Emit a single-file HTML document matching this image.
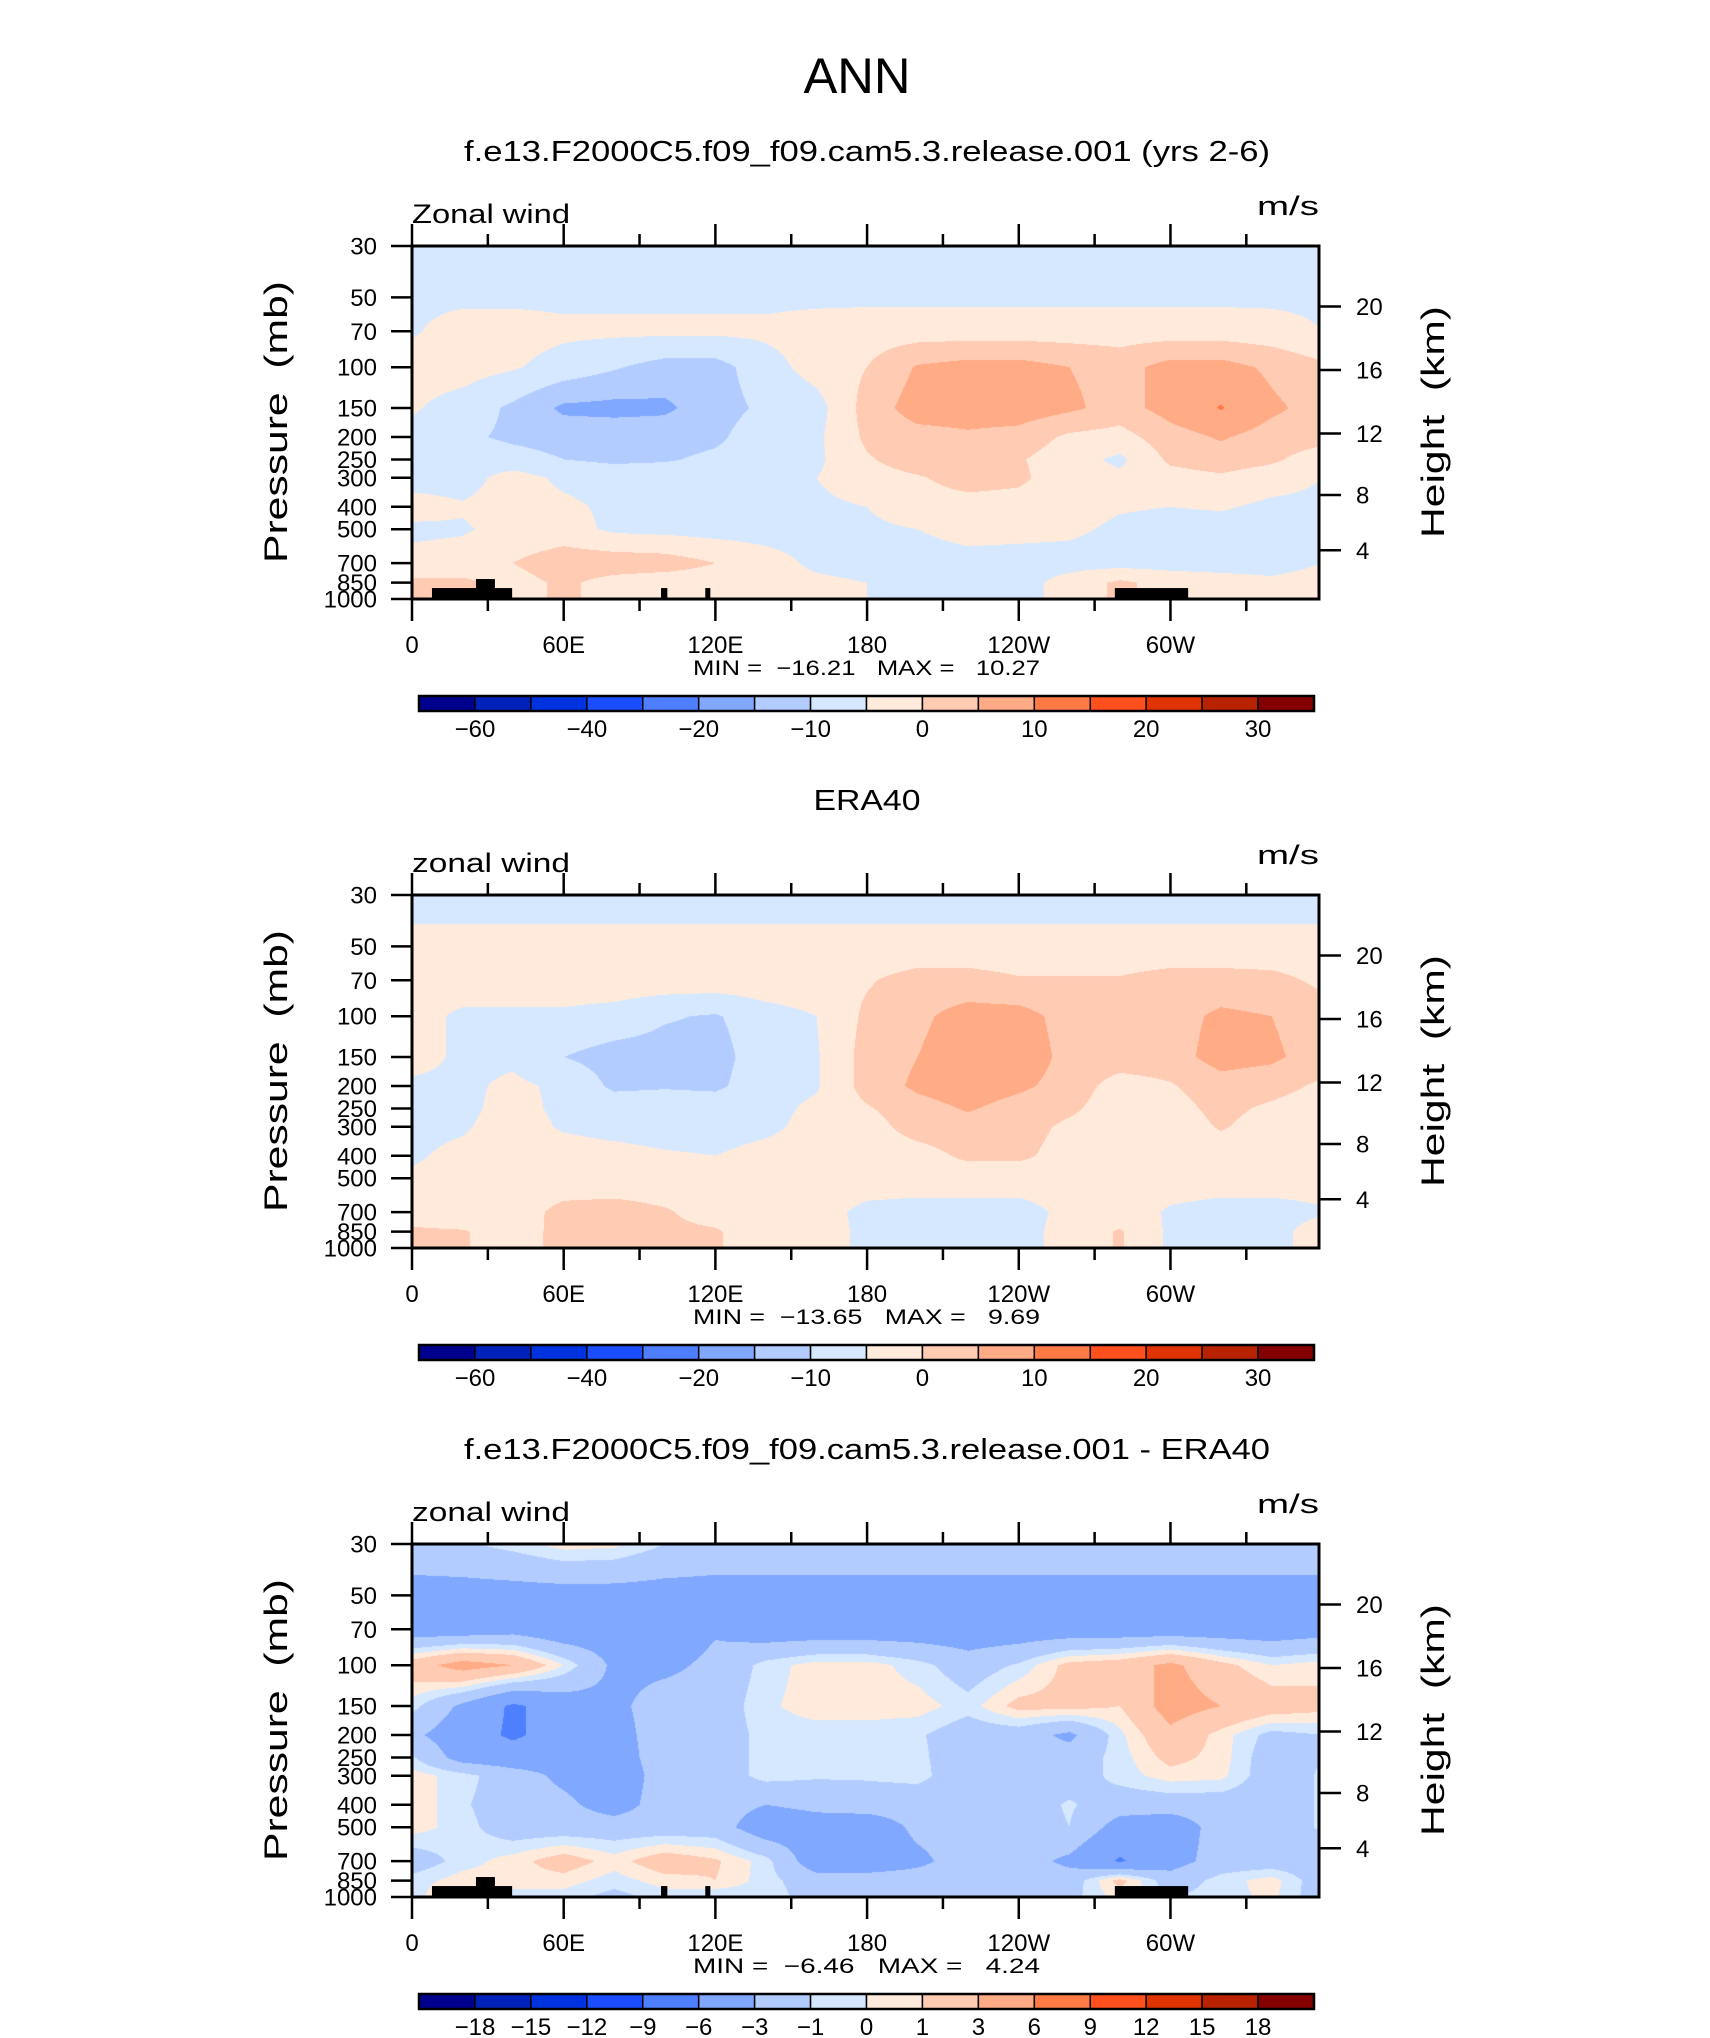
<!DOCTYPE html>
<html><head><meta charset="utf-8">
<style>
html,body{margin:0;padding:0;background:#fff;}
#wrap{position:relative;width:1710px;height:2038px;overflow:hidden;background:#fff;}
canvas{position:absolute;}
svg{position:absolute;left:0;top:0;}
text{font-family:"Liberation Sans",sans-serif;fill:#000;white-space:pre;}
</style></head>
<body>
<div id="wrap">
<canvas id="c0" width="907" height="353" style="left:412px;top:246px"></canvas>
<canvas id="c1" width="907" height="353" style="left:412px;top:895px"></canvas>
<canvas id="c2" width="907" height="353" style="left:412px;top:1544px"></canvas>
<svg id="svg" width="1710" height="2038" xmlns="http://www.w3.org/2000/svg"></svg>
</div>
<script>
// ---------- data ----------
const lons = [0,20,40,60,80,100,120,140,160,180,200,220,240,260,280,300,320,340,360];
const levs = [30,50,70,100,150,200,250,300,400,500,700,850,1000];

const u1 = [
[-8,-8,-8,-8,-8,-8,-8,-8,-8,-8,-8,-8,-8,-8,-8,-8,-8,-8,-8],
[-6,-6,-6,-6,-6,-6,-6,-6,-6,-6,-6,-6,-6,-6,-6,-6,-6,-6,-6],
[-5.5,-3,-3,-4,-4,-4,-4,-4,-3,-2.5,-2.5,-2.5,-2.5,-2.5,-2.5,-2.5,-2.5,-3,-5],
[-3,-3,-4.5,-7,-9.5,-12,-12,-7,-3,0,5.5,7,7,5,3,7,7,4,1],
[-4.5,-7,-11,-16,-16.5,-16,-12,-9,-7,2,7.5,8,8,6,3,7,10.3,6,3],
[-6,-9,-11,-12,-12,-12,-11,-7,-6,1,3,4,3,-1,-2,3,5.5,3,2],
[-7,-7,-8,-10,-11,-10.5,-9,-7,-6,-0.5,2.5,3,0.5,-3,-6,1,3,1,-3],
[-7,-7,-3,-6,-7,-7,-7,-7,-5,-2,-0.5,2,1,-3,-4,-2,-1,-3,-5],
[-3,-4.5,-3,-4,-6,-7,-7,-7,-6,-5,-2,-2,-2,-3,-4.5,-5,-4.5,-6,-6],
[-6,-5.5,-3.5,-3,-6,-6.5,-7,-7,-7,-6,-5,-3,-3.5,-4,-6,-7,-7,-7,-6],
[-3.5,-3,0,3,3,2.5,0,-3,-6,-7,-7.5,-7,-7,-7,-7,-7,-7,-7,-5],
[1,1,-2,1,-2,-3,-3,-3,-4,-5,-9,-8,-7,-3,1,-2,-3,-4,-3],
[1,1,-2,1,-2,-3,-3,-3,-4,-5,-7,-7,-7,-3,1,-2,-3,-4,-3]
];
const u2 = [
[-7,-7,-7,-7,-7,-7,-7,-7,-7,-7,-7,-7,-7,-7,-7,-7,-7,-7,-7],
[-3.5,-3.5,-3.5,-3.5,-3.5,-3.5,-3.5,-3.5,-3.5,-3.5,-3.5,-3.5,-3.5,-3.5,-3.5,-3.5,-3.5,-3.5,-3.5],
[-2,-2,-2,-2,-2,-2,-2,-2,-2,-0.5,2,2,0.5,0.5,0.5,2,2,1.5,-1],
[-3,-6,-6,-6,-7,-9.5,-10.5,-7,-5,1,4,7,7,3,3,3,6,5,2],
[-3,-6,-6,-10,-12,-12,-12,-7,-5.5,2,5,8,8,3.5,3,3,7,6,2.5],
[-6,-6,-4,-6,-11,-10.5,-11,-7,-5.5,2,6,8,6,3,-2.5,-0.5,3,2,-1],
[-6,-6,-3.5,-6,-7,-7,-7,-6.5,-4,-0.5,3,5.5,3,1,-3,-2,1.5,-1,-3],
[-6,-5.5,-3,-5.5,-6.5,-7,-7,-6,-3.5,-2,2,3,2,-1,-3,-3,0.5,-2.5,-3],
[-5.5,-4,-3,-3,-3.5,-4.5,-5,-3.5,-3,-2.5,-2,1,1,-2,-3,-3,-3,-3,-3],
[-4.5,-3.5,-3,-3,-3,-3,-3,-3,-3,-3,-3,-3,-3,-3,-3,-3,-3,-3,-3],
[-3,-4.5,-2.5,1.5,2,0.5,-2,-3,-3.5,-6,-6.5,-6.5,-6.5,-4,-3,-5.5,-6.5,-6.5,-5.5],
[1,0.5,-3,2,2,1,0.5,-3,-3,-6,-7,-7,-7,-3,0.5,-6,-7,-6.5,-3],
[1,0.5,-3,2,2,1,0.5,-3,-3,-6,-7,-7,-7,-3,0.5,-6,-7,-6.5,-3]
];
const u3 = [
[-1.5,-1.2,-0.5,0.5,0.3,-1,-1.5,-1.5,-1.5,-1.5,-1.5,-1.5,-1.5,-1.5,-1.5,-1.5,-1.5,-1.5,-1.5],
[-4,-4,-4,-4,-4,-4,-4,-4,-4,-4,-4,-4,-4,-4,-4,-4,-4,-4,-4],
[-4.5,-4.5,-4,-5,-4.5,-4.5,-3.2,-4.5,-4.5,-4.5,-4.5,-4.5,-4.5,-4.5,-4.5,-4.5,-4.5,-4.5,-4],
[2,4,3,0,-3.5,-3.5,-2.5,-0.5,0.5,0.5,-0.5,-2,-0.8,1.5,2,3.5,1.5,0,0.5],
[-0.5,-3.5,-6.5,-4.5,-3.5,-2,-2,-0.2,0.5,0.5,0.5,-0.5,1.5,1.5,1,4,3,2,1.5],
[-2.5,-4.5,-6.5,-4.5,-3.8,-2,-2,-0.5,-0.5,-0.5,-0.8,-2,-2,-3.5,-0.3,2.5,0.5,-1.5,-1],
[-0.8,-4,-4.5,-4,-4,-2,-2,-0.5,-0.5,-0.5,-0.7,-2,-2,-2,-0.5,1.5,0.5,-2,-1],
[0.5,-0.5,-2,-3.5,-4.5,-2,-2,-0.5,-0.8,-0.8,-0.6,-2,-2,-2,-0.5,0.5,0.3,-2,-0.8],
[0.8,-0.8,-2,-2.5,-4,-2,-2,-3,-2.5,-2,-2,-2,-2,-0.8,-2,-2,-2,-2,-0.8],
[0.5,-0.5,-2,-2,-2,-2,-2,-4.5,-4,-4.5,-2.5,-2,-2,-1,-4,-4.5,-2,-2,-0.8],
[-2,-0.5,0.5,1.8,0.5,2,1.2,-0.5,-4.5,-4.5,-3.5,-2,-2,-3.5,-6.3,-4,-2,-2,-2],
[-0.5,0.5,0.5,0.5,-0.5,0.5,1,-0.5,-2,-2,-2,-2,-2,-2,1.5,-2,-0.5,0.5,-2],
[-0.5,1.5,-0.5,-0.5,-1.5,-0.5,-1,-0.5,-1.5,-2,-2,-2,-2,-1.5,0.5,-1,-0.5,0.3,-2]
];
// topography blocks: [lonStart, lonEnd, topPressure]
const topoLon0 = [7.9, 25.3, 98.5, 116, 278];
const topoLon1 = [39.6, 32.8, 101, 118, 307];
const topoP = [897, 820, 897, 897, 897];

const levelsA = [-60,-50,-40,-30,-20,-15,-10,-5,0,5,10,15,20,25,30];
const labelsA = ["\u221260","","\u221240","","\u221220","","\u221210","","0","","10","","20","","30"];
const levelsB = [-18,-15,-12,-9,-6,-3,-1,0,1,3,6,9,12,15,18];
const labelsB = ["\u221218","\u221215","\u221212","\u22129","\u22126","\u22123","\u22121","0","1","3","6","9","12","15","18"];
const colors = ["#00008f","#0022b8","#0033e0","#1a4dff","#4d7fff","#80a8ff","#b3ccff","#d6e8ff","#ffeadb","#ffcbb3","#ffab85","#ff7a45","#ff4f1c","#e03300","#b82200","#850000"];

const xTickLons = [0,30,60,90,120,150,180,210,240,270,300,330];
const xLabelLons = [0,60,120,180,240,300];
const xLabels = ["0","60E","120E","180","120W","60W"];
const pTicks = [30,50,70,100,150,200,250,300,400,500,700,850,1000];
const hTicks = [20,16,12,8,4];
const minmax = [["\u221216.21","10.27"],["\u221213.65","9.69"],["\u22126.46","4.24"]];
const titles = ["f.e13.F2000C5.f09_f09.cam5.3.release.001 (yrs 2-6)","ERA40","f.e13.F2000C5.f09_f09.cam5.3.release.001 - ERA40"];
const varNames = ["Zonal wind","zonal wind","zonal wind"];

// ---------- layout ----------
const PL=412, PW=907, PH=353, PT0=246, DY=649, LONMAX=358.75;
const fields=[u1,u2,u3];
const levelSets=[levelsA,levelsA,levelsB];
const labelSets=[labelsA,labelsA,labelsB];
const lnTop=Math.log(30), lnSpan=Math.log(1000/30);
function xOf(lon){return PL+lon/LONMAX*PW;}
function yOfP(p,top){return top+(Math.log(p)-lnTop)/lnSpan*PH;}
function pOfH(km){const z=km*1000; if(z<=11000) return 1013.25*Math.pow(1-2.25577e-5*z,5.25588); return 226.32*Math.exp(-(z-11000)/6341.6);}
function hex(c){return [parseInt(c.substr(1,2),16),parseInt(c.substr(3,2),16),parseInt(c.substr(5,2),16)];}
const rgb=colors.map(hex);
const lnLevs=levs.map(Math.log);

function sample(F,lon,lnp){
  let i=Math.min(lons.length-2,Math.max(0,Math.floor(lon/20)));
  let fx=(lon-lons[i])/(lons[i+1]-lons[i]);
  let j=0; while(j<levs.length-2 && lnp>lnLevs[j+1]) j++;
  let fy=(lnp-lnLevs[j])/(lnLevs[j+1]-lnLevs[j]); fy=Math.max(0,Math.min(1,fy));
  const a=F[j][i],b=F[j][i+1],c=F[j+1][i],d=F[j+1][i+1];
  return (a*(1-fx)+b*fx)*(1-fy)+(c*(1-fx)+d*fx)*fy;
}
function drawField(k){
  const cv=document.getElementById('c'+k), ctx=cv.getContext('2d');
  const img=ctx.createImageData(PW,PH), F=fields[k], L=levelSets[k];
  for(let y=0;y<PH;y++){
    const lnp=lnTop+(y+0.5)/PH*lnSpan;
    for(let x=0;x<PW;x++){
      const v=sample(F,(x+0.5)/PW*LONMAX,lnp);
      let b=0; while(b<L.length && v>=L[b]) b++;
      const c=rgb[b], o=(y*PW+x)*4;
      img.data[o]=c[0];img.data[o+1]=c[1];img.data[o+2]=c[2];img.data[o+3]=255;
    }
  }
  ctx.putImageData(img,0,0);
}

const NS="http://www.w3.org/2000/svg", svg=document.getElementById('svg');
function el(tag,attrs,parent){const e=document.createElementNS(NS,tag);for(const k in attrs)e.setAttribute(k,attrs[k]);(parent||svg).appendChild(e);return e;}
function txt(s,attrs,parent){const e=el('text',attrs,parent);e.textContent=s;return e;}

const annT=txt("ANN",{x:857,y:93,'text-anchor':'middle','font-size':50,textLength:107,lengthAdjust:'spacingAndGlyphs'});



for(let k=0;k<3;k++){
  drawField(k);
  const T=PT0+k*DY, B=T+PH, R=PL+PW;
  const g=el('g',{});
  
  
  const tl=txt(titles[k],{x:867,y:161+k*DY,'text-anchor':'middle','font-size':29,textLength:k==1?107:806,lengthAdjust:'spacingAndGlyphs'},g);
  
  
  const vn=txt(varNames[k],{x:412,y:223+k*DY,'font-size':27,textLength:158,lengthAdjust:'spacingAndGlyphs'},g);
  
  
  const un=txt("m/s",{x:1319,y:215+k*DY,'text-anchor':'end','font-size':27,textLength:62,lengthAdjust:'spacingAndGlyphs'},g);
  
  
  // topography
  if(k!==1){
    for(let t=0;t<topoLon0.length;t++){
      const x0=xOf(topoLon0[t]),x1=xOf(topoLon1[t]),y0=yOfP(topoP[t],T);
      const r=el('rect',{x:x0,y:y0,width:x1-x0,height:B-y0,fill:'#000'},g);
      
      
    }
  }
  // frame
  const fr=el('rect',{x:PL,y:T,width:PW,height:PH,fill:'none',stroke:'#000','stroke-width':3},g);
  
  
  // x ticks
  xTickLons.forEach(lon=>{
    const x=xOf(lon), len=(lon%60===0)?22:12;
    const a=el('line',{x1:x,x2:x,y1:T,y2:T-len,stroke:'#000','stroke-width':2.5},g);
    
    
    const b=el('line',{x1:x,x2:x,y1:B,y2:B+len,stroke:'#000','stroke-width':2.5},g);
    
    
  });
  xLabelLons.forEach((lon,i)=>{
    const t=txt(xLabels[i],{x:xOf(lon),y:B+54,'text-anchor':'middle','font-size':24},g);
    
    
  });
  // pressure ticks
  pTicks.forEach(p=>{
    const y=yOfP(p,T);
    const l=el('line',{x1:PL,x2:PL-21,y1:y,y2:y,stroke:'#000','stroke-width':2.5},g);
    
    
    const t=txt(String(p),{x:377,y:y+8.5,'text-anchor':'end','font-size':24},g);
    
    
  });
  hTicks.forEach(h=>{
    const y=yOfP(pOfH(h),T);
    const l=el('line',{x1:R,x2:R+22,y1:y,y2:y,stroke:'#000','stroke-width':2.5},g);
    
    
    const t=txt(String(h),{x:1356,y:y+8.5,'font-size':24},g);
    
    
  });
  const yt=txt("Pressure  (mb)",{x:0,y:0,'text-anchor':'middle','font-size':32,textLength:282,lengthAdjust:'spacingAndGlyphs',transform:`translate(287,${422+k*DY}) rotate(-90)`},g);
  
  
  const ht=txt("Height  (km)",{x:0,y:0,'text-anchor':'middle','font-size':32,textLength:232,lengthAdjust:'spacingAndGlyphs',transform:`translate(1444,${422+k*DY}) rotate(-90)`},g);
  
  
  const mm=txt("MIN =  "+minmax[k][0]+"   MAX =   "+minmax[k][1],{x:693,y:675+k*DY,'font-size':21,textLength:347,lengthAdjust:'spacingAndGlyphs'},g);
  
  
  // colorbar
  const cb=el('g',{},g);
  
  
  const cx0=419, cw=(1314-419)/colors.length, cy=696+k*DY, ch=15;
  colors.forEach((c,i)=>{
    const r=el('rect',{x:cx0+i*cw,y:cy,width:cw,height:ch,fill:c,stroke:'#000','stroke-width':1.5},cb);
    
    
  });
  el('rect',{x:cx0,y:cy,width:cw*colors.length,height:ch,fill:'none',stroke:'#000','stroke-width':2.5},cb);
  labelSets[k].forEach((s,i)=>{
    if(!s) return;
    const t=txt(s,{x:cx0+(i+1)*cw,y:cy+41,'text-anchor':'middle','font-size':24},cb);
    
    
  });
}
</script>
</body></html>
